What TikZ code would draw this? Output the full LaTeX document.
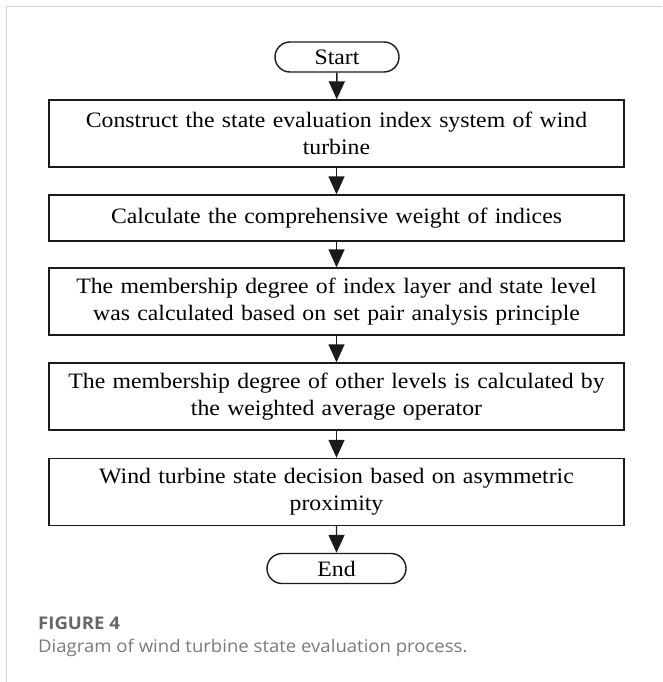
\documentclass[tikz,border=0pt]{standalone}
\usepackage{fontspec}
\setmainfont[FakeStretch=1.08]{Liberation Serif}
\newfontfamily\capfont[FakeStretch=1.06]{Open Sans}
\usepackage{tikz}
\usetikzlibrary{arrows.meta,positioning,shapes.misc}
\definecolor{FrameGray}{HTML}{D4D4D4}
\definecolor{CapGray}{HTML}{666666}
\definecolor{CapLight}{HTML}{7A7A7A}
\definecolor{LineDark}{HTML}{1A1A1A}

\begin{document}
\begin{tikzpicture}[x=1pt, y=1pt, font=\fontsize{22}{27}\selectfont,
  stepbox/.style={draw=LineDark, line width=1.4pt, minimum width=575pt, text width=572pt,
                  align=center, inner sep=0pt, minimum height=67pt},
  term/.style={draw=LineDark, line width=1.4pt, rounded rectangle, minimum height=30pt,
               inner sep=0pt},
  flow/.style={LineDark, line width=1.4pt, -{Triangle[width=16pt,length=18pt]}},
  capt/.style={anchor=base west, inner sep=0pt}]
\useasboundingbox (0,0) rectangle (662,-682);
%% panel frame, open on the right and at the bottom
\draw[FrameGray, line width=1.5pt] (6.5,-682) -- (6.5,-6.5) -- (662,-6.5);
%% flow chart, one column
\node[term, minimum width=124pt] (start) at (337,-57) {Start};
\node[stepbox] (s1) at (336.5,-133.5) {Construct the state evaluation index system of wind\\ turbine};
\node[stepbox, minimum height=46pt] (s2) at (336.5,-218) {Calculate the comprehensive weight of indices};
\node[stepbox] (s3) at (336.5,-301.5) {The membership degree of index layer and state level\\ was calculated based on set pair analysis principle};
\node[stepbox] (s4) at (336.5,-396.5) {The membership degree of other levels is calculated by\\ the weighted average operator};
\node[stepbox] (s5) at (336.5,-492) {Wind turbine state decision based on asymmetric\\ proximity};
\node[term, minimum width=139pt] (end) at (336.5,-568.5) {End};
\foreach \a/\b in {start/s1, s1/s2, s2/s3, s3/s4, s4/s5, s5/end}
  \draw[flow] (\a) -- (\b);
%% caption
\node[capt, text=CapGray, font=\capfont\bfseries\fontsize{17.5}{21}\selectfont] (fig) at (38,-629) {FIGURE 4};
\node[capt, text=CapLight, font=\capfont\fontsize{17.5}{21}\selectfont] (cap) at (38,-652) {Diagram of wind turbine state evaluation process.};
\end{tikzpicture}
\end{document}
